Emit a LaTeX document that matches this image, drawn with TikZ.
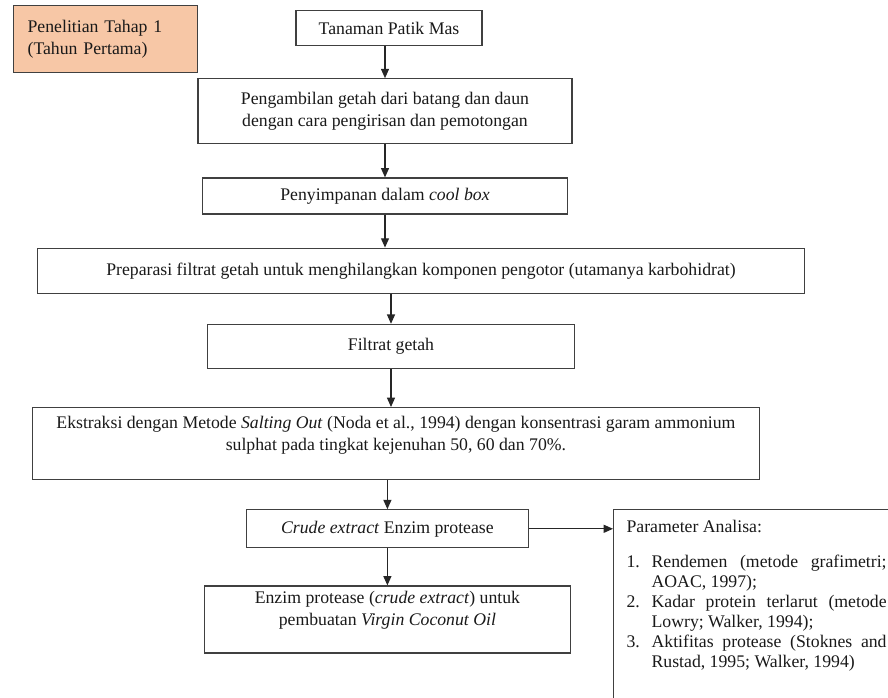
\documentclass[tikz,border=0pt]{standalone}
\usepackage{fontspec}
\setmainfont{Liberation Serif}
\usetikzlibrary{positioning,arrows.meta}
\definecolor{peach}{HTML}{F7C7A6}
\newcommand{\analisaitem}[2]{\par\hangindent=18.75pt\hangafter=1\noindent\makebox[18.75pt][l]{#1}#2}

\begin{document}
\begin{tikzpicture}[node distance=24.75pt,
    box/.style={rectangle, draw=black!75, line width=0.9pt, align=center, text=black!90},
    arr/.style={-{Triangle[length=7pt,width=6pt]}, line width=0.9pt, draw=black!85},
    font=\fontsize{13.3}{16.5}\selectfont]
    \useasboundingbox (0,0) rectangle (666pt,-523.5pt);

    \node (tahap) [box, fill=peach, anchor=north west, text width=117pt, inner xsep=10.5pt, minimum height=50.25pt, align=left] at (9.75pt,-3.75pt) {Penelitian Tahap 1\\(Tahun Pertama)};
    \node (tanaman) [box, anchor=north, minimum width=139.5pt, minimum height=26.25pt] at (291.75pt,-7.5pt) {Tanaman Patik Mas};
    \node (ambil) [box, below=24pt of tanaman, xshift=-3pt, minimum width=280.5pt, minimum height=48.75pt] {Pengambilan getah dari batang dan daun\\dengan cara pengirisan dan pemotongan};
    \node (simpan) [box, below=of ambil, minimum width=273.75pt, minimum height=27pt] {Penyimpanan dalam \textit{cool box}};
    \node (preparasi) [box, below=of simpan, xshift=27pt, minimum width=575.25pt, minimum height=33.75pt] {Preparasi filtrat getah untuk menghilangkan komponen pengotor (utamanya karbohidrat)};
    \node (filtrat) [box, below=22.5pt of preparasi, xshift=-22.5pt, minimum width=275.25pt, minimum height=33pt] {Filtrat getah};
    \node (ekstraksi) [box, below=28.5pt of filtrat, xshift=3.7pt, minimum width=545.25pt, minimum height=54pt] {Ekstraksi dengan Metode \textit{Salting Out} (Noda et al., 1994) dengan konsentrasi garam ammonium\\sulphat pada tingkat kejenuhan 50, 60 dan 70\%.\\[-1.5pt]\mbox{}};
    \node (crude) [box, below=21.75pt of ekstraksi, xshift=-6.4pt, minimum width=211.5pt, minimum height=28.5pt] {\textit{Crude extract} Enzim protease};
    \node (enzim) [box, below=27.75pt of crude, minimum width=274.5pt, minimum height=50.25pt] {Enzim protease (\textit{crude extract}) untuk\\pembuatan \textit{Virgin Coconut Oil}\\\mbox{}};
    \node (param) [box, right=63pt of crude.north east, anchor=north west, text width=195pt, inner xsep=9.75pt, inner ysep=8pt, align=justify, font=\fontsize{13.3}{15}\selectfont] {Parameter Analisa:\par\vspace{11pt}
        \analisaitem{1.}{Rendemen (metode grafimetri; AOAC, 1997);}
        \analisaitem{2.}{Kadar protein terlarut (metode Lowry; Walker, 1994);}
        \analisaitem{3.}{Aktifitas protease (Stoknes and Rustad, 1995; Walker, 1994)}
        \par\rule{0pt}{34pt}};

    \draw[arr] (ambil.north |- tanaman.south) -- (ambil.north);
    \draw[arr] (ambil.south) -- (ambil.south |- simpan.north);
    \draw[arr] (simpan.south) -- (simpan.south |- preparasi.north);
    \draw[arr] (filtrat.north |- preparasi.south) -- (filtrat.north);
    \draw[arr] (filtrat.south) -- (filtrat.south |- ekstraksi.north);
    \draw[arr] (crude.north |- ekstraksi.south) -- (crude.north);
    \draw[arr] (crude.south) -- (crude.south |- enzim.north);
    \draw[arr] (crude.east) -- (crude.east -| param.west);
\end{tikzpicture}
\end{document}
